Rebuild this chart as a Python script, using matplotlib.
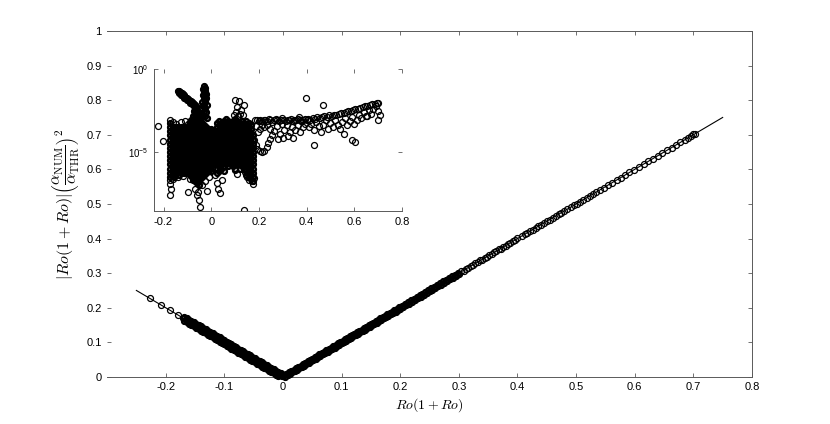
import matplotlib
matplotlib.use('Agg')
import matplotlib.pyplot as plt
from matplotlib.ticker import FixedLocator, LogFormatterMathtext, NullLocator

plt.rcParams['font.family'] = ['Liberation Sans', 'DejaVu Sans']
plt.rcParams['mathtext.fontset'] = 'cm'

# theory line |Ro(1+Ro)|
line_x = [-0.25, 0.0, 0.75]
line_y = [0.25, 0.0, 0.75]

# main panel, densely packed points (x, y)
band_pts = [
    # Ro(1+Ro) < 0
    (-0.170, 0.170), (-0.166, 0.166), (-0.162, 0.162), (-0.158, 0.158), (-0.154, 0.154), (-0.150, 0.150),
    (-0.146, 0.146), (-0.142, 0.142), (-0.138, 0.138), (-0.134, 0.134), (-0.130, 0.130), (-0.126, 0.126),
    (-0.122, 0.122), (-0.118, 0.118), (-0.114, 0.114), (-0.110, 0.110), (-0.106, 0.106), (-0.102, 0.102),
    (-0.098, 0.098), (-0.094, 0.094), (-0.090, 0.090), (-0.086, 0.086), (-0.082, 0.082), (-0.078, 0.078),
    (-0.074, 0.074), (-0.070, 0.070), (-0.066, 0.066), (-0.062, 0.062), (-0.058, 0.058), (-0.054, 0.054),
    (-0.050, 0.050), (-0.046, 0.046), (-0.042, 0.042), (-0.038, 0.038), (-0.034, 0.034), (-0.030, 0.030),
    (-0.026, 0.026), (-0.022, 0.022), (-0.018, 0.018), (-0.014, 0.014), (-0.010, 0.010), (-0.006, 0.006),
    (-0.002, 0.002),
    (-0.168, 0.174), (-0.164, 0.170), (-0.160, 0.166), (-0.156, 0.162), (-0.152, 0.158), (-0.148, 0.154),
    (-0.144, 0.150), (-0.140, 0.146), (-0.136, 0.142), (-0.132, 0.138), (-0.128, 0.134), (-0.124, 0.130),
    (-0.120, 0.126), (-0.116, 0.122), (-0.112, 0.118), (-0.108, 0.114), (-0.104, 0.110), (-0.100, 0.106),
    (-0.096, 0.102), (-0.092, 0.098), (-0.088, 0.094), (-0.084, 0.090), (-0.080, 0.086), (-0.076, 0.082),
    (-0.072, 0.078), (-0.068, 0.074), (-0.064, 0.070), (-0.060, 0.066), (-0.056, 0.062), (-0.052, 0.058),
    (-0.048, 0.054), (-0.044, 0.050), (-0.040, 0.046), (-0.036, 0.042), (-0.032, 0.038), (-0.028, 0.034),
    (-0.024, 0.030), (-0.020, 0.026), (-0.016, 0.022), (-0.012, 0.018), (-0.008, 0.014), (-0.004, 0.010),
    (0.000, 0.006),
    (-0.168, 0.162), (-0.164, 0.158), (-0.160, 0.154), (-0.156, 0.150), (-0.152, 0.146), (-0.148, 0.142),
    (-0.144, 0.138), (-0.140, 0.134), (-0.136, 0.130), (-0.132, 0.126), (-0.128, 0.122), (-0.124, 0.118),
    (-0.120, 0.114), (-0.116, 0.110), (-0.112, 0.106), (-0.108, 0.102), (-0.104, 0.098), (-0.100, 0.094),
    (-0.096, 0.090), (-0.092, 0.086), (-0.088, 0.082), (-0.084, 0.078), (-0.080, 0.074), (-0.076, 0.070),
    (-0.072, 0.066), (-0.068, 0.062), (-0.064, 0.058), (-0.060, 0.054), (-0.056, 0.050), (-0.052, 0.046),
    (-0.048, 0.042), (-0.044, 0.038), (-0.040, 0.034), (-0.036, 0.030), (-0.032, 0.026), (-0.028, 0.022),
    (-0.024, 0.018), (-0.020, 0.014), (-0.016, 0.010), (-0.012, 0.006), (-0.008, 0.002),
    # 0 < Ro(1+Ro) < 0.3
    (0.002, 0.005), (0.006, 0.009), (0.010, 0.013), (0.014, 0.017), (0.018, 0.021), (0.022, 0.025),
    (0.026, 0.029), (0.030, 0.033), (0.034, 0.037), (0.038, 0.041), (0.042, 0.045), (0.046, 0.049),
    (0.050, 0.053), (0.054, 0.057), (0.058, 0.061), (0.062, 0.065), (0.066, 0.069), (0.070, 0.073),
    (0.074, 0.077), (0.078, 0.081), (0.082, 0.085), (0.086, 0.089), (0.090, 0.093), (0.094, 0.097),
    (0.098, 0.101), (0.102, 0.105), (0.106, 0.109), (0.110, 0.113), (0.114, 0.117), (0.118, 0.121),
    (0.122, 0.125), (0.126, 0.129), (0.130, 0.133), (0.134, 0.137), (0.138, 0.141), (0.142, 0.145),
    (0.146, 0.149), (0.150, 0.153), (0.154, 0.157), (0.158, 0.161), (0.162, 0.165), (0.166, 0.169),
    (0.170, 0.173), (0.174, 0.177), (0.178, 0.181), (0.182, 0.185), (0.186, 0.189), (0.190, 0.193),
    (0.194, 0.197), (0.198, 0.201),
    (0.004, 0.001), (0.008, 0.005), (0.012, 0.009), (0.016, 0.013), (0.020, 0.017), (0.024, 0.021),
    (0.028, 0.025), (0.032, 0.029), (0.036, 0.033), (0.040, 0.037), (0.044, 0.041), (0.048, 0.045),
    (0.052, 0.049), (0.056, 0.053), (0.060, 0.057), (0.064, 0.061), (0.068, 0.065), (0.072, 0.069),
    (0.076, 0.073), (0.080, 0.077), (0.084, 0.081), (0.088, 0.085), (0.092, 0.089), (0.096, 0.093),
    (0.100, 0.097), (0.104, 0.101), (0.108, 0.105), (0.112, 0.109), (0.116, 0.113), (0.120, 0.117),
    (0.124, 0.121), (0.128, 0.125), (0.132, 0.129), (0.136, 0.133), (0.140, 0.137), (0.144, 0.141),
    (0.148, 0.145), (0.152, 0.149), (0.156, 0.153), (0.160, 0.157), (0.164, 0.161), (0.168, 0.165),
    (0.172, 0.169), (0.176, 0.173), (0.180, 0.177), (0.184, 0.181), (0.188, 0.185), (0.192, 0.189),
    (0.196, 0.193), (0.200, 0.197),
    (0.203, 0.206), (0.208, 0.211), (0.213, 0.216), (0.218, 0.221), (0.223, 0.226), (0.228, 0.231),
    (0.233, 0.236), (0.238, 0.241), (0.243, 0.246), (0.248, 0.251), (0.253, 0.256), (0.258, 0.261),
    (0.263, 0.266), (0.268, 0.271), (0.273, 0.276), (0.278, 0.281), (0.283, 0.286), (0.288, 0.291),
    (0.293, 0.296), (0.298, 0.301),
    (0.205, 0.202), (0.210, 0.207), (0.215, 0.212), (0.220, 0.217), (0.225, 0.222), (0.230, 0.227),
    (0.235, 0.232), (0.240, 0.237), (0.245, 0.242), (0.250, 0.247), (0.255, 0.252), (0.260, 0.257),
    (0.265, 0.262), (0.270, 0.267), (0.275, 0.272), (0.280, 0.277), (0.285, 0.282), (0.290, 0.287),
    (0.295, 0.292), (0.300, 0.297),
]

# main panel, sparser points (x, y)
main_pts = [
    (-0.227, 0.227), (-0.208, 0.208), (-0.193, 0.193), (-0.179, 0.180),
    (0.304, 0.305), (0.308, 0.307), (0.312, 0.313), (0.316, 0.315), (0.320, 0.321), (0.324, 0.323),
    (0.328, 0.329), (0.332, 0.331), (0.336, 0.337), (0.340, 0.339), (0.344, 0.345), (0.348, 0.347),
    (0.352, 0.353), (0.356, 0.355), (0.360, 0.361), (0.364, 0.363), (0.368, 0.369), (0.372, 0.371),
    (0.376, 0.377), (0.380, 0.379), (0.384, 0.385), (0.388, 0.387), (0.392, 0.393), (0.396, 0.395),
    (0.400, 0.401),
    (0.407, 0.407), (0.412, 0.412), (0.416, 0.416), (0.421, 0.421), (0.426, 0.426), (0.431, 0.431),
    (0.435, 0.435), (0.440, 0.440), (0.445, 0.445), (0.450, 0.450), (0.455, 0.455), (0.460, 0.460),
    (0.465, 0.465), (0.470, 0.470), (0.475, 0.475), (0.480, 0.480), (0.485, 0.485), (0.491, 0.491),
    (0.496, 0.496), (0.501, 0.501), (0.507, 0.507), (0.512, 0.512), (0.518, 0.518), (0.523, 0.523),
    (0.529, 0.529), (0.534, 0.534), (0.540, 0.540),
    (0.547, 0.547), (0.554, 0.554), (0.561, 0.561), (0.569, 0.569), (0.576, 0.576), (0.584, 0.584),
    (0.591, 0.591), (0.599, 0.599), (0.607, 0.607), (0.615, 0.615), (0.623, 0.623), (0.631, 0.631),
    (0.639, 0.639), (0.647, 0.647), (0.655, 0.655), (0.663, 0.663), (0.671, 0.671), (0.678, 0.678),
    (0.685, 0.685), (0.691, 0.691), (0.696, 0.696), (0.699, 0.701), (0.702, 0.702),
]

# inset: dense cloud, column by column (x, list of errors)
cloud_x = [-0.172, -0.165, -0.158, -0.150, -0.142, -0.135, -0.127, -0.120, -0.112, -0.105,
           -0.097, -0.090, -0.082, -0.075, -0.067, -0.060, -0.052, -0.045, -0.037, -0.030,
           -0.022, -0.015, -0.007, 0.000, 0.008, 0.015,
           0.025, 0.034, 0.043, 0.053, 0.062, 0.072, 0.081, 0.091, 0.100, 0.110,
           0.119, 0.129, 0.138, 0.148, 0.157, 0.167, 0.176]
cloud_y = [
    [5.6e-4, 3.2e-4, 1.8e-4, 1e-4, 5.6e-5, 3.2e-5, 1.8e-5, 1e-5, 5.6e-6, 3.2e-6, 1.8e-6, 1e-6, 5.6e-7, 3.2e-7],
    [2.4e-4, 1.35e-4, 7.5e-5, 4.2e-5, 2.4e-5, 1.35e-5, 7.5e-6, 4.2e-6, 2.4e-6, 1.35e-6, 7.5e-7, 4.2e-7],
    [3.2e-4, 1.8e-4, 1e-4, 5.6e-5, 3.2e-5, 1.8e-5, 1e-5, 5.6e-6, 3.2e-6, 1.8e-6, 1e-6, 5.6e-7, 3.2e-7],
    [2.4e-4, 1.35e-4, 7.5e-5, 4.2e-5, 2.4e-5, 1.35e-5, 7.5e-6, 4.2e-6, 2.4e-6, 1.35e-6, 7.5e-7, 4.2e-7],
    [3.2e-4, 1.8e-4, 1e-4, 5.6e-5, 3.2e-5, 1.8e-5, 1e-5, 5.6e-6, 3.2e-6, 1.8e-6, 1e-6, 5.6e-7],
    [2.4e-4, 1.35e-4, 7.5e-5, 4.2e-5, 2.4e-5, 1.35e-5, 7.5e-6, 4.2e-6, 2.4e-6, 1.35e-6, 7.5e-7, 4.2e-7],
    [3.2e-4, 1.8e-4, 1e-4, 5.6e-5, 3.2e-5, 1.8e-5, 1e-5, 5.6e-6, 3.2e-6, 1.8e-6, 1e-6, 5.6e-7],
    [2.4e-4, 1.35e-4, 7.5e-5, 4.2e-5, 2.4e-5, 1.35e-5, 7.5e-6, 4.2e-6, 2.4e-6, 1.35e-6, 7.5e-7],
    [3.2e-4, 1.8e-4, 1e-4, 5.6e-5, 3.2e-5, 1.8e-5, 1e-5, 5.6e-6, 3.2e-6, 1.8e-6, 1e-6, 5.6e-7],
    [2.4e-4, 1.35e-4, 7.5e-5, 4.2e-5, 2.4e-5, 1.35e-5, 7.5e-6, 4.2e-6, 2.4e-6, 1.35e-6, 7.5e-7],
    [3.2e-4, 1.8e-4, 1e-4, 5.6e-5, 3.2e-5, 1.8e-5, 1e-5, 5.6e-6, 3.2e-6, 1.8e-6, 1e-6, 5.6e-7],
    [4.2e-4, 2.4e-4, 1.35e-4, 7.5e-5, 4.2e-5, 2.4e-5, 1.35e-5, 7.5e-6, 4.2e-6, 2.4e-6, 1.35e-6, 7.5e-7, 4.2e-7],
    [5.6e-4, 3.2e-4, 1.8e-4, 1e-4, 5.6e-5, 3.2e-5, 1.8e-5, 1e-5, 5.6e-6, 3.2e-6, 1.8e-6, 1e-6, 5.6e-7, 3.2e-7],
    [7.5e-4, 4.2e-4, 2.4e-4, 1.35e-4, 7.5e-5, 4.2e-5, 2.4e-5, 1.35e-5, 7.5e-6, 4.2e-6, 2.4e-6, 1.35e-6, 7.5e-7,
     4.2e-7, 2.4e-7],
    [1e-3, 5.6e-4, 3.2e-4, 1.8e-4, 1e-4, 5.6e-5, 3.2e-5, 1.8e-5, 1e-5, 5.6e-6, 3.2e-6, 1.8e-6, 1e-6, 5.6e-7,
     3.2e-7, 1.8e-7],
    [1.35e-3, 7.5e-4, 4.2e-4, 2.4e-4, 1.35e-4, 7.5e-5, 4.2e-5, 2.4e-5, 1.35e-5, 7.5e-6, 4.2e-6, 2.4e-6, 1.35e-6,
     7.5e-7, 4.2e-7, 2.4e-7, 1.35e-7],
    [1e-3, 5.6e-4, 3.2e-4, 1.8e-4, 1e-4, 5.6e-5, 3.2e-5, 1.8e-5, 1e-5, 5.6e-6, 3.2e-6, 1.8e-6, 1e-6, 5.6e-7,
     3.2e-7, 1.8e-7, 1e-7],
    [7.5e-4, 4.2e-4, 2.4e-4, 1.35e-4, 7.5e-5, 4.2e-5, 2.4e-5, 1.35e-5, 7.5e-6, 4.2e-6, 2.4e-6, 1.35e-6, 7.5e-7,
     4.2e-7, 2.4e-7],
    [5.6e-4, 3.2e-4, 1.8e-4, 1e-4, 5.6e-5, 3.2e-5, 1.8e-5, 1e-5, 5.6e-6, 3.2e-6, 1.8e-6, 1e-6, 5.6e-7, 3.2e-7],
    [4.2e-4, 2.4e-4, 1.35e-4, 7.5e-5, 4.2e-5, 2.4e-5, 1.35e-5, 7.5e-6, 4.2e-6, 2.4e-6, 1.35e-6, 7.5e-7, 4.2e-7],
    [3.2e-4, 1.8e-4, 1e-4, 5.6e-5, 3.2e-5, 1.8e-5, 1e-5, 5.6e-6, 3.2e-6, 1.8e-6, 1e-6, 5.6e-7],
    [2.4e-4, 1.35e-4, 7.5e-5, 4.2e-5, 2.4e-5, 1.35e-5, 7.5e-6, 4.2e-6, 2.4e-6, 1.35e-6, 7.5e-7],
    [1.8e-4, 1e-4, 5.6e-5, 3.2e-5, 1.8e-5, 1e-5, 5.6e-6, 3.2e-6, 1.8e-6, 1e-6],
    [2.4e-4, 1.35e-4, 7.5e-5, 4.2e-5, 2.4e-5, 1.35e-5, 7.5e-6, 4.2e-6, 2.4e-6, 1.35e-6, 7.5e-7],
    [1.8e-4, 1e-4, 5.6e-5, 3.2e-5, 1.8e-5, 1e-5, 5.6e-6, 3.2e-6, 1.8e-6],
    [7.5e-5, 4.2e-5, 2.4e-5, 1.35e-5, 7.5e-6, 4.2e-6, 2.4e-6],
    [5.6e-4, 3.2e-4, 1.8e-4, 1e-4, 5.6e-5, 3.2e-5, 1.8e-5, 1e-5, 5.6e-6, 3.2e-6, 1.8e-6, 1e-6, 5.6e-7],
    [7.5e-4, 4.2e-4, 2.4e-4, 1.35e-4, 7.5e-5, 4.2e-5, 2.4e-5, 1.35e-5, 7.5e-6, 4.2e-6, 2.4e-6, 1.35e-6, 7.5e-7],
    [5.6e-4, 3.2e-4, 1.8e-4, 1e-4, 5.6e-5, 3.2e-5, 1.8e-5, 1e-5, 5.6e-6, 3.2e-6, 1.8e-6, 1e-6],
    [7.5e-4, 4.2e-4, 2.4e-4, 1.35e-4, 7.5e-5, 4.2e-5, 2.4e-5, 1.35e-5, 7.5e-6, 4.2e-6, 2.4e-6, 1.35e-6, 7.5e-7],
    [1e-3, 5.6e-4, 3.2e-4, 1.8e-4, 1e-4, 5.6e-5, 3.2e-5, 1.8e-5, 1e-5, 5.6e-6, 3.2e-6, 1.8e-6],
    [7.5e-4, 4.2e-4, 2.4e-4, 1.35e-4, 7.5e-5, 4.2e-5, 2.4e-5, 1.35e-5, 7.5e-6, 4.2e-6, 2.4e-6, 1.35e-6],
    [5.6e-4, 3.2e-4, 1.8e-4, 1e-4, 5.6e-5, 3.2e-5, 1.8e-5, 1e-5, 5.6e-6, 3.2e-6, 1.8e-6],
    [7.5e-4, 4.2e-4, 2.4e-4, 1.35e-4, 7.5e-5, 4.2e-5, 2.4e-5, 1.35e-5, 7.5e-6, 4.2e-6, 2.4e-6, 1.35e-6],
    [1e-3, 5.6e-4, 3.2e-4, 1.8e-4, 1e-4, 5.6e-5, 3.2e-5, 1.8e-5, 1e-5, 5.6e-6, 3.2e-6, 1.8e-6, 1e-6],
    [7.5e-4, 4.2e-4, 2.4e-4, 1.35e-4, 7.5e-5, 4.2e-5, 2.4e-5, 1.35e-5, 7.5e-6, 4.2e-6, 2.4e-6],
    [5.6e-4, 3.2e-4, 1.8e-4, 1e-4, 5.6e-5, 3.2e-5, 1.8e-5, 1e-5, 5.6e-6, 3.2e-6, 1.8e-6, 1e-6],
    [7.5e-4, 4.2e-4, 2.4e-4, 1.35e-4, 7.5e-5, 4.2e-5, 2.4e-5, 1.35e-5, 7.5e-6, 4.2e-6, 2.4e-6, 1.35e-6],
    [5.6e-4, 3.2e-4, 1.8e-4, 1e-4, 5.6e-5, 3.2e-5, 1.8e-5, 1e-5, 5.6e-6, 3.2e-6, 1.8e-6, 1e-6],
    [7.5e-4, 4.2e-4, 2.4e-4, 1.35e-4, 7.5e-5, 4.2e-5, 2.4e-5, 1.35e-5, 7.5e-6, 4.2e-6, 2.4e-6, 1.35e-6, 7.5e-7,
     4.2e-7],
    [5.6e-4, 3.2e-4, 1.8e-4, 1e-4, 5.6e-5, 3.2e-5, 1.8e-5, 1e-5, 5.6e-6, 3.2e-6, 1.8e-6, 1e-6, 5.6e-7, 3.2e-7],
    [4.2e-4, 2.4e-4, 1.35e-4, 7.5e-5, 4.2e-5, 2.4e-5, 1.35e-5, 7.5e-6, 4.2e-6, 2.4e-6, 1.35e-6, 7.5e-7, 4.2e-7,
     2.4e-7],
    [1e-4, 5.6e-5, 3.2e-5, 1.8e-5, 1e-5, 5.6e-6, 3.2e-6, 1.8e-6, 1e-6, 5.6e-7, 3.2e-7, 1.8e-7],
]

# inset: strand and spike on the upper left (x, error)
strand_pts = [
    (-0.140, 5e-2), (-0.136, 4.6e-2), (-0.132, 4.2e-2), (-0.137, 3.6e-2), (-0.128, 3.8e-2), (-0.124, 3.4e-2),
    (-0.120, 3e-2), (-0.125, 2.6e-2), (-0.116, 2.6e-2), (-0.112, 2.3e-2), (-0.108, 2.1e-2), (-0.113, 1.8e-2),
    (-0.104, 1.9e-2), (-0.100, 1.7e-2), (-0.096, 1.5e-2), (-0.101, 1.3e-2), (-0.092, 1.35e-2), (-0.088, 1.2e-2),
    (-0.084, 1.1e-2), (-0.089, 9e-3), (-0.080, 1e-2), (-0.076, 9e-3), (-0.072, 8e-3), (-0.077, 6.5e-3),
    (-0.068, 7e-3), (-0.064, 6e-3), (-0.070, 5e-3), (-0.062, 4.5e-3), (-0.066, 3.5e-3), (-0.058, 3.5e-3),
    (-0.072, 2.8e-3), (-0.063, 2.5e-3), (-0.055, 2.2e-3), (-0.068, 1.8e-3), (-0.058, 1.6e-3), (-0.077, 1.4e-3),
    (-0.050, 1.3e-3), (-0.064, 1.1e-3), (-0.072, 9e-4), (-0.083, 8e-4), (-0.056, 7e-4), (-0.090, 6e-4),
    (-0.031, 9e-2), (-0.027, 7e-2), (-0.034, 6e-2), (-0.024, 5e-2), (-0.030, 4e-2), (-0.021, 3.3e-2),
    (-0.035, 2.8e-2), (-0.027, 2.3e-2), (-0.020, 1.8e-2), (-0.032, 1.5e-2), (-0.024, 1.2e-2), (-0.038, 1e-2),
    (-0.029, 8e-3), (-0.019, 7e-3), (-0.035, 5.5e-3), (-0.025, 4.5e-3), (-0.042, 3.8e-3), (-0.031, 3e-3),
    (-0.020, 2.5e-3), (-0.045, 2.2e-3), (-0.036, 1.8e-3), (-0.026, 1.5e-3), (-0.040, 1.2e-3), (-0.017, 1.1e-3),
]

# inset: scattered points outside the dense cloud (x, error)
scatter_pts = [
    (-0.221, 3.7e-4), (-0.203, 4.6e-5), (-0.173, 8.5e-4), (-0.160, 6e-4), (-0.148, 5e-4), (-0.125, 6e-4),
    (-0.110, 7e-4), (-0.098, 5e-4),
    # below the cloud
    (-0.171, 2e-7), (-0.172, 1.2e-7), (-0.170, 6e-8), (-0.171, 2.5e-8), (-0.160, 2.5e-7), (-0.140, 3e-7),
    (-0.118, 3.5e-7), (-0.098, 4e-8), (-0.090, 2.5e-7), (-0.078, 2e-7), (-0.068, 6e-8), (-0.058, 2.5e-8),
    (-0.050, 1.3e-8), (-0.048, 5e-9), (-0.055, 4e-8), (-0.040, 1e-7), (-0.028, 1.8e-7), (-0.017, 4.5e-8),
    (-0.010, 3e-7), (0.016, 4e-7), (0.023, 1.3e-7), (0.030, 6e-8), (0.037, 3.5e-8), (0.045, 2e-7),
    (0.100, 8e-7), (0.108, 5e-7), (0.140, 6e-7), (0.150, 3e-7), (0.160, 2e-7), (0.170, 1.8e-7),
    (0.176, 1.2e-7), (0.136, 3.2e-9), (0.180, 2.8e-7),
    # above the right block
    (0.100, 1.3e-2), (0.118, 1.1e-2), (0.138, 7e-3), (0.108, 5e-3), (0.125, 3.5e-3), (0.105, 2.5e-3),
    (0.122, 2e-3), (0.112, 1.4e-3), (0.135, 1.6e-3), (0.095, 1.8e-3),
    # plateau 0.18 - 0.40
    (0.185, 8e-4), (0.192, 9e-4), (0.199, 7.5e-4), (0.206, 8.5e-4), (0.213, 7e-4), (0.220, 9e-4),
    (0.227, 8e-4), (0.234, 7e-4), (0.241, 9.5e-4), (0.248, 8e-4), (0.256, 6.5e-4), (0.263, 9e-4),
    (0.270, 1e-3), (0.277, 8e-4), (0.284, 7e-4), (0.291, 9e-4), (0.298, 1.1e-3), (0.305, 8e-4),
    (0.313, 7e-4), (0.320, 9e-4), (0.327, 8e-4), (0.334, 1e-3), (0.342, 7.5e-4), (0.349, 9e-4),
    (0.356, 8e-4), (0.364, 1e-3), (0.371, 8.5e-4), (0.378, 7e-4), (0.386, 9e-4), (0.393, 1e-3),
    (0.400, 8e-4), (0.370, 1.3e-3),
    (0.188, 3.5e-4), (0.196, 1.5e-4), (0.203, 2.5e-4), (0.212, 4e-4), (0.222, 3e-4), (0.233, 4.5e-4),
    (0.245, 2.5e-4), (0.262, 1.8e-4), (0.275, 3.5e-4), (0.288, 1.2e-4), (0.296, 5e-4), (0.305, 2e-4),
    (0.318, 4e-4), (0.330, 1.5e-4), (0.338, 3e-4), (0.352, 2.2e-4), (0.362, 4.5e-4), (0.372, 1.6e-4),
    (0.385, 3e-4), (0.395, 5e-4), (0.282, 6e-5), (0.300, 7e-5), (0.320, 9e-5), (0.345, 7e-5),
    (0.180, 5e-5), (0.186, 2.5e-5), (0.194, 1.5e-5), (0.203, 1.1e-5), (0.212, 1e-5), (0.222, 1.2e-5),
    (0.232, 2e-5), (0.240, 3.5e-5), (0.248, 6e-5), (0.256, 1e-4),
    # rising tail 0.40 - 0.71
    (0.405, 1e-3), (0.415, 9e-4), (0.425, 1.1e-3), (0.435, 1e-3), (0.445, 1.2e-3), (0.455, 1.1e-3),
    (0.465, 1.3e-3), (0.475, 1.4e-3), (0.485, 1.3e-3), (0.495, 1.6e-3), (0.505, 1.5e-3), (0.515, 1.8e-3),
    (0.525, 1.7e-3), (0.535, 2e-3), (0.545, 2.2e-3), (0.555, 2.1e-3), (0.565, 2.5e-3), (0.575, 2.8e-3),
    (0.585, 3e-3), (0.595, 3.5e-3), (0.605, 3.8e-3), (0.615, 4e-3), (0.625, 4.5e-3), (0.635, 5e-3),
    (0.645, 5.5e-3), (0.655, 6e-3), (0.665, 7e-3), (0.675, 7.5e-3), (0.685, 8e-3), (0.695, 8.5e-3),
    (0.700, 9e-3),
    (0.410, 3e-4), (0.420, 5e-4), (0.430, 2e-4), (0.440, 6e-4), (0.450, 3.5e-4), (0.460, 1.5e-4),
    (0.470, 4.5e-4), (0.480, 8e-4), (0.490, 2.5e-4), (0.500, 5.5e-4), (0.510, 3e-4), (0.520, 9e-4),
    (0.530, 4e-4), (0.540, 2.5e-4), (0.550, 6e-4), (0.560, 1.1e-3), (0.570, 4.5e-4), (0.580, 7e-4),
    (0.590, 1.3e-3), (0.600, 5e-4), (0.610, 9e-4), (0.620, 1.6e-3), (0.630, 1.1e-3), (0.640, 2.5e-3),
    (0.650, 1.5e-3), (0.660, 3.5e-3), (0.670, 2e-3), (0.680, 4e-3), (0.690, 5.5e-3), (0.700, 3e-3),
    (0.399, 1.7e-2), (0.470, 6.8e-3), (0.430, 2.5e-5), (0.559, 1.2e-4), (0.590, 5.2e-5), (0.604, 3.8e-5),
    (0.655, 1.5e-3), (0.700, 8e-4), (0.708, 1.7e-3),
]

main_xticks = [-0.2, -0.1, 0, 0.1, 0.2, 0.3, 0.4, 0.5, 0.6, 0.7, 0.8]
main_xlabels = ['-0.2', '-0.1', '0', '0.1', '0.2', '0.3', '0.4', '0.5', '0.6', '0.7', '0.8']
main_yticks = [0, 0.1, 0.2, 0.3, 0.4, 0.5, 0.6, 0.7, 0.8, 0.9, 1]
main_ylabels = ['0', '0.1', '0.2', '0.3', '0.4', '0.5', '0.6', '0.7', '0.8', '0.9', '1']
inset_xticks = [-0.2, 0, 0.2, 0.4, 0.6, 0.8]
inset_xlabels = ['-0.2', '0', '0.2', '0.4', '0.6', '0.8']
inset_yticks = [1e-5, 1]

spine_col = '0.35'
# same open circles everywhere; where points pile up the ring is drawn heavier
mk = dict(linestyle='none', marker='o', mfc='none', mec='black', ms=4.3, mew=0.9)
mk_dense = dict(linestyle='none', marker='o', mfc='none', mec='black', ms=3.5, mew=1.7)


def xs(pts):
    return [p[0] for p in pts]


def ys(pts):
    return [p[1] for p in pts]


fig = plt.figure(figsize=(8.3, 4.24), dpi=100)

ax = fig.add_axes([0.129, 0.111, 0.777, 0.816])
ax.plot(line_x, line_y, color='black', lw=0.8, zorder=2)
ax.plot(xs(band_pts), ys(band_pts), zorder=3, clip_on=False, **mk_dense)
ax.plot(xs(main_pts), ys(main_pts), zorder=3, clip_on=False, **mk)
ax.set_xlim(-0.3, 0.8)
ax.set_ylim(0, 1)
ax.set_xticks(main_xticks)
ax.set_xticklabels(main_xlabels)
ax.set_yticks(main_yticks)
ax.set_yticklabels(main_ylabels)
ax.tick_params(direction='in', length=3, width=0.6, color=spine_col, labelsize=8,
               top=True, right=True, pad=4)
for s in ax.spines.values():
    s.set_color(spine_col)
    s.set_linewidth(0.7)
ax.spines['left'].set_visible(False)
ax.set_xlabel(r'$Ro(1+Ro)$', fontsize=10, labelpad=3)
ax.set_ylabel(r'$|Ro(1+Ro)|\left(\dfrac{\alpha_{\rm NUM}}{\alpha_{\rm THR}}\right)^2$',
              fontsize=11.5, labelpad=3)

# inset with the relative error on a log scale
axin = fig.add_axes([0.1855, 0.5024, 0.2988, 0.335])
cx, cy = [], []
for x, col in zip(cloud_x, cloud_y):
    for y in col:
        cx.append(x)
        cy.append(y)
axin.plot(cx, cy, **mk_dense)
axin.plot(xs(strand_pts), ys(strand_pts), **mk_dense)
axin.plot(xs(scatter_pts), ys(scatter_pts), **mk)
axin.set_yscale('log')
axin.set_xlim(-0.24, 0.8)
axin.set_ylim(2.8e-9, 1)
axin.yaxis.set_major_locator(FixedLocator(inset_yticks))
axin.yaxis.set_major_formatter(LogFormatterMathtext())
axin.yaxis.set_minor_locator(NullLocator())
axin.set_xticks(inset_xticks)
axin.set_xticklabels(inset_xlabels)
axin.tick_params(direction='in', length=3, width=0.6, color=spine_col, labelsize=8,
                 top=True, right=True, pad=4)
axin.tick_params(axis='y', labelsize=7)
for s in axin.spines.values():
    s.set_color(spine_col)
    s.set_linewidth(0.7)
axin.spines['top'].set_visible(False)
axin.spines['right'].set_visible(False)

fig.savefig('out.png', dpi=100)
